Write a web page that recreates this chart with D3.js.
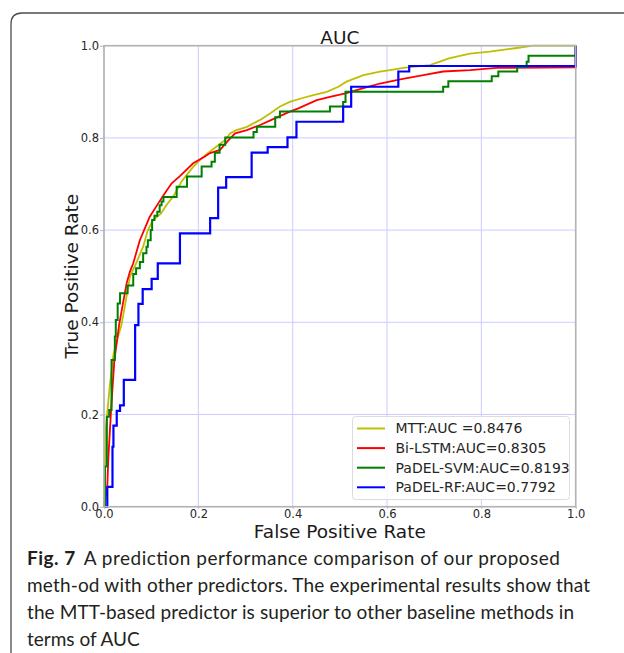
<!DOCTYPE html>
<html>
<head>
<meta charset="utf-8">
<script src="https://cdn.jsdelivr.net/npm/d3@7"></script>
<style>
  html, body { margin: 0; padding: 0; background: #fff; }
  svg { display: block; }
</style>
</head>
<body>
<svg id="chart" width="624" height="653"></svg>
<script>
// ---------------- DATA ----------------
const seriesNames = ["MTT:AUC =0.8476", "Bi-LSTM:AUC=0.8305", "PaDEL-SVM:AUC=0.8193", "PaDEL-RF:AUC=0.7792"];
const seriesColors = ["#bfbf00", "#ff0000", "#008000", "#0000ff"];
const xTicks = [0.0, 0.2, 0.4, 0.6, 0.8, 1.0];
const yTicks = [0.0, 0.2, 0.4, 0.6, 0.8, 1.0];

// MTT (yellow)
const mttROC = [[0,0],[0.004,0.17],[0.012,0.26],[0.02,0.33],[0.03,0.37],[0.037,0.394],[0.045,0.44],[0.055,0.499],[0.062,0.515],[0.068,0.528],[0.083,0.564],[0.093,0.6],[0.104,0.622],[0.121,0.636],[0.132,0.654],[0.146,0.672],[0.157,0.691],[0.164,0.705],[0.178,0.723],[0.189,0.737],[0.203,0.752],[0.220,0.767],[0.238,0.781],[0.256,0.795],[0.268,0.81],[0.281,0.817],[0.303,0.824],[0.331,0.839],[0.352,0.853],[0.373,0.868],[0.394,0.878],[0.419,0.886],[0.444,0.893],[0.472,0.9],[0.497,0.911],[0.514,0.922],[0.55,0.936],[0.585,0.944],[0.606,0.947],[0.635,0.952],[0.691,0.958],[0.733,0.973],[0.776,0.983],[0.818,0.987],[0.875,0.995],[0.91,1.0],[1.0,1.0]];
// Bi-LSTM (red)
const lstmROC = [[0,0],[0.007,0.043],[0.009,0.101],[0.015,0.21],[0.022,0.318],[0.032,0.394],[0.040,0.44],[0.048,0.485],[0.055,0.51],[0.062,0.528],[0.076,0.578],[0.085,0.6],[0.097,0.629],[0.115,0.658],[0.129,0.68],[0.143,0.701],[0.162,0.718],[0.189,0.745],[0.213,0.759],[0.225,0.767],[0.246,0.774],[0.264,0.795],[0.278,0.81],[0.303,0.817],[0.331,0.828],[0.355,0.839],[0.394,0.857],[0.412,0.864],[0.451,0.882],[0.479,0.889],[0.514,0.897],[0.55,0.908],[0.585,0.918],[0.628,0.927],[0.677,0.936],[0.719,0.944],[0.776,0.947],[0.832,0.952],[1.0,0.953],[1.0,1.0]];
// PaDEL-SVM (green) – step corners: at fpr x, tpr rises to y
const svmROC = [[0,0],[0.002,0.087],[0.006,0.195],[0.011,0.21],[0.016,0.318],[0.023,0.369],[0.025,0.405],[0.029,0.441],[0.034,0.463],[0.050,0.48],[0.062,0.505],[0.068,0.517],[0.076,0.531],[0.083,0.55],[0.090,0.564],[0.093,0.578],[0.099,0.6],[0.102,0.622],[0.107,0.631],[0.113,0.64],[0.118,0.654],[0.122,0.662],[0.126,0.672],[0.154,0.694],[0.176,0.716],[0.207,0.738],[0.228,0.748],[0.235,0.768],[0.245,0.785],[0.257,0.801],[0.317,0.813],[0.324,0.824],[0.363,0.845],[0.373,0.857],[0.479,0.868],[0.507,0.878],[0.512,0.9],[0.719,0.911],[0.73,0.923],[0.822,0.934],[0.836,0.944],[0.876,0.954],[0.896,0.965],[0.9,0.978],[1.0,1.0]];
// PaDEL-RF (blue) – step corners
const rfROC = [[0,0],[0.007,0.043],[0.018,0.13],[0.020,0.176],[0.027,0.208],[0.034,0.22],[0.042,0.275],[0.066,0.394],[0.073,0.44],[0.082,0.472],[0.101,0.494],[0.114,0.528],[0.161,0.593],[0.225,0.626],[0.242,0.692],[0.259,0.715],[0.313,0.768],[0.347,0.78],[0.389,0.801],[0.408,0.835],[0.507,0.868],[0.524,0.911],[0.624,0.944],[0.647,0.956],[1.0,1.0]];

const captionBold = "Fig. 7";
const captionLines = [
  "A prediction performance comparison of our proposed",
  "meth-od with other predictors. The experimental results show that",
  "the MTT-based predictor is superior to other baseline methods in",
  "terms of AUC"
];

// ---------------- DRAW ----------------
const svg = d3.select("#chart");

// frame (rounded top-left)
svg.append("path")
  .attr("d", "M11,653 L11,24 Q11,13 22,13 L624,13")
  .attr("fill", "none").attr("stroke", "#4d4d4d").attr("stroke-width", 1.3);

const x = d3.scaleLinear().domain([0, 1]).range([104, 575.7]);
const y = d3.scaleLinear().domain([0, 1]).range([506.7, 45.7]);

// grid
const grid = svg.append("g");
grid.selectAll(".gx").data(xTicks).join("line")
  .attr("x1", d => x(d)).attr("x2", d => x(d))
  .attr("y1", y(0)).attr("y2", y(1))
  .attr("stroke", "#ccccff").attr("stroke-width", 1);
grid.selectAll(".gy").data(yTicks).join("line")
  .attr("y1", d => y(d)).attr("y2", d => y(d))
  .attr("x1", x(0)).attr("x2", x(1))
  .attr("stroke", "#ccccff").attr("stroke-width", 1);

// curves
const lineLinear = d3.line().x(d => x(d[0])).y(d => y(d[1]));
const lineStep = d3.line().x(d => x(d[0])).y(d => y(d[1])).curve(d3.curveStepAfter);
const series = [
  { data: mttROC, gen: lineLinear, w: 1.8 },
  { data: lstmROC, gen: lineLinear, w: 1.8 },
  { data: svmROC, gen: lineStep, w: 2 },
  { data: rfROC, gen: lineStep, w: 2.2 }
];
series.forEach((s, i) => {
  svg.append("path").datum(s.data)
    .attr("d", s.gen)
    .attr("fill", "none")
    .attr("stroke", seriesColors[i])
    .attr("stroke-width", s.w)
    .attr("stroke-linejoin", "miter");
});

// spines
svg.append("rect")
  .attr("x", x(0)).attr("y", y(1))
  .attr("width", x(1) - x(0)).attr("height", y(0) - y(1))
  .attr("fill", "none").attr("stroke", "#b3b3b3").attr("stroke-width", 1.6);

// axes
const fmt = d3.format(".1f");
const xAxis = svg.append("g").attr("transform", `translate(0,${y(0)})`)
  .call(d3.axisBottom(x).tickValues(xTicks).tickFormat(fmt).tickSize(2).tickPadding(1));
const yAxis = svg.append("g").attr("transform", `translate(${x(0)},0)`)
  .call(d3.axisLeft(y).tickValues(yTicks).tickFormat(fmt).tickSize(4).tickPadding(1));
[xAxis, yAxis].forEach(a => {
  a.select(".domain").remove();
  a.selectAll("line").attr("stroke", "#b3b3b3");
  a.selectAll("text").attr("fill", "#262626")
    .style("font-family", "'DejaVu Sans', sans-serif").style("font-size", "11.5px");
});

// title & axis labels
svg.append("text").attr("x", (x(0) + x(1)) / 2).attr("y", 43.5)
  .attr("text-anchor", "middle").attr("fill", "#1a1a1a")
  .style("font-family", "'DejaVu Sans', sans-serif").style("font-size", "18.5px").text("AUC");
svg.append("text").attr("x", (x(0) + x(1)) / 2).attr("y", 538)
  .attr("text-anchor", "middle").attr("fill", "#1a1a1a")
  .style("font-family", "'DejaVu Sans', sans-serif").style("font-size", "18.5px").text("False Positive Rate");
svg.append("text").attr("transform", `translate(78,${(y(0) + y(1)) / 2}) rotate(-90)`)
  .attr("text-anchor", "middle").attr("fill", "#1a1a1a")
  .style("font-family", "'DejaVu Sans', sans-serif").style("font-size", "18.5px").text("True Positive Rate");

// legend
const lg = svg.append("g").attr("transform", "translate(352.5,416.5)");
lg.append("rect").attr("width", 217).attr("height", 83).attr("rx", 3)
  .attr("fill", "#fff").attr("fill-opacity", 0.85)
  .attr("stroke", "#dcdcdc").attr("stroke-width", 1);
seriesNames.forEach((name, i) => {
  const cy = 12 + i * 19.6;
  lg.append("line").attr("x1", 4.5).attr("x2", 32.5).attr("y1", cy).attr("y2", cy)
    .attr("stroke", seriesColors[i]).attr("stroke-width", 2);
  lg.append("text").attr("x", 43).attr("y", cy).attr("dy", "0.35em")
    .attr("fill", "#262626")
    .style("font-family", "'DejaVu Sans', sans-serif").style("font-size", "14px").text(name);
});

// caption
const capX = 27;
const capBase = [565, 592, 619, 646];
const capEnds = [560, 590, 574, null];
captionLines.forEach((ln, i) => {
  const t = svg.append("text").attr("x", capX).attr("y", capBase[i])
    .attr("fill", "#231f20")
    .style("font-family", "Lato, 'Open Sans', sans-serif").style("font-size", "19px");
  if (i === 0) {
    t.append("tspan").style("font-weight", "bold").text(captionBold);
    t.append("tspan").attr("dx", 8).text(ln);
  } else {
    t.text(ln);
  }
  if (capEnds[i]) t.attr("textLength", capEnds[i] - capX).attr("lengthAdjust", "spacing");
});
</script>
</body>
</html>
